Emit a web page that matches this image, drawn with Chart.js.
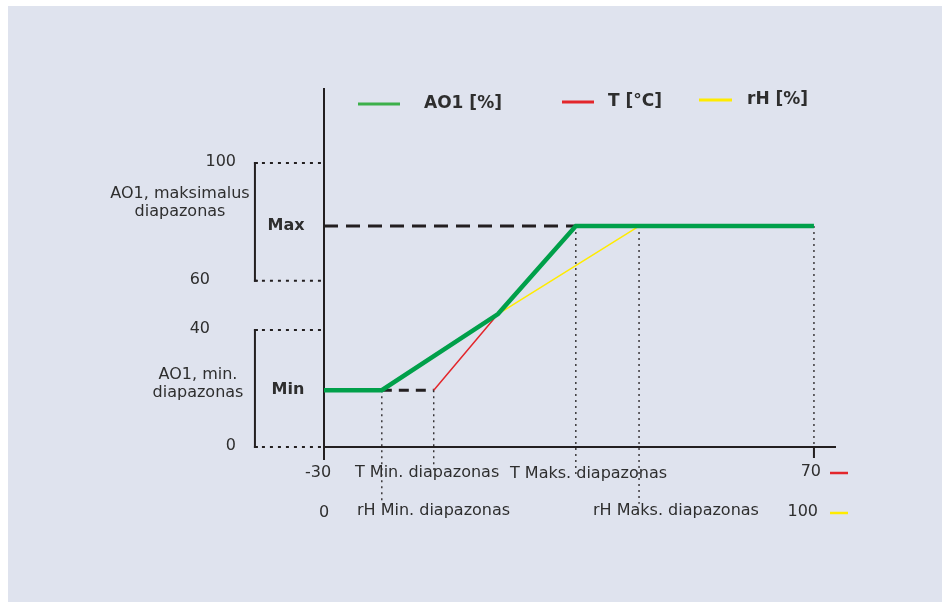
<!DOCTYPE html>
<html>
<head>
<meta charset="utf-8">
<script src="https://cdn.jsdelivr.net/npm/chart.js@4"></script>
<style>
  html, body { margin: 0; padding: 0; background: #ffffff; }
  #wrap { position: absolute; left: 8px; top: 6px; width: 934px; height: 596px; background: #dfe3ee; }
  #c { position: absolute; left: 0; top: 0; }
</style>
</head>
<body>
<div id="wrap"></div>
<canvas id="c" width="950" height="608"></canvas>
<script>
// x axis is the temperature scale (°C), y axis is AO1 output (%)
const aoX = [-30, -18.2, 5.5, 21.4, 70];
const aoY = [20, 20, 46.8, 77.8, 77.8];
const tX = [-7.6, 5.5, 21.4];
const tY = [20, 46.8, 77.8];
const rhX = [-18.2, 5.5, 34.3];
const rhY = [20, 46.8, 77.8];

const aoMin = 20;
const aoMax = 77.8;
const yTickValues = [0, 41.2, 58.5, 100];
const yTickLabels = ["0", "40", "60", "100"];
const tTicks = [-30, 70];
const tTickLabels = ["-30", "70"];
const rhTickLabels = ["0", "100"];

const FONT = '"DejaVu Sans", Verdana, sans-serif';
const TXT = '#2e2e2e';
const DARK = '#231f20';

function pts(xs, ys) {
  return xs.map((x, i) => ({ x: x, y: ys[i] }));
}

function line(data, color, width, dash, clip) {
  return {
    data: data,
    borderColor: color,
    borderWidth: width,
    borderDash: dash || [],
    pointRadius: 0,
    showLine: true,
    fill: false,
    tension: 0,
    clip: clip ? false : undefined
  };
}

const dotted = [2, 4];
const leftX = -44.3;   // start of the dotted range lines left of the axis

// first dataset is drawn on top
const datasets = [
  line(pts(aoX, aoY), '#00a04a', 4.5),
  line(pts(tX, tY), '#e3262b', 1.5),
  line(pts(rhX, rhY), '#ffeb00', 1.5),
  // dashed Max / Min levels
  line([{ x: -30, y: aoMax }, { x: tX[2], y: aoMax }], DARK, 3, [14, 8]),
  line([{ x: rhX[0], y: aoMin }, { x: tX[0], y: aoMin }], DARK, 3, [10, 7]),
  // vertical helper lines
  line([{ x: rhX[0], y: aoMin }, { x: rhX[0], y: -19 }], DARK, 1.3, dotted, true),
  line([{ x: tX[0], y: aoMin }, { x: tX[0], y: -8 }], DARK, 1.3, dotted, true),
  line([{ x: tX[2], y: aoMax }, { x: tX[2], y: -10 }], DARK, 1.3, dotted, true),
  line([{ x: rhX[2], y: aoMax }, { x: rhX[2], y: -20 }], DARK, 1.3, dotted, true),
  line([{ x: 70, y: aoMax }, { x: 70, y: 0 }], DARK, 1.3, dotted, true),
  // left range guides
  ...yTickValues.map(v => line([{ x: leftX, y: v }, { x: -30, y: v }], DARK, 2, [3, 5], true))
];

const decor = {
  id: 'decor',
  beforeDatasetsDraw(chart) {
    const { ctx, scales: { x, y } } = chart;
    const x0 = x.getPixelForValue(-30);
    const y0 = y.getPixelForValue(0);
    ctx.save();
    ctx.strokeStyle = DARK;
    ctx.lineWidth = 2;
    ctx.beginPath();
    // y axis
    ctx.moveTo(x0, chart.chartArea.top);
    ctx.lineTo(x0, y0 + 13);
    // x axis
    ctx.moveTo(x0, y0);
    ctx.lineTo(chart.chartArea.right, y0);
    // tick at 70
    const x70 = x.getPixelForValue(tTicks[1]);
    ctx.moveTo(x70, y0);
    ctx.lineTo(x70, y0 + 11);
    ctx.stroke();

    // range brackets
    const bx = x.getPixelForValue(leftX) + 1;
    [[100, 58.5], [41.2, 0]].forEach(([a, b]) => {
      ctx.beginPath();
      ctx.moveTo(bx + 3, y.getPixelForValue(a));
      ctx.lineTo(bx, y.getPixelForValue(a));
      ctx.lineTo(bx, y.getPixelForValue(b));
      ctx.lineTo(bx + 3, y.getPixelForValue(b));
      ctx.stroke();
    });
    ctx.restore();
  },
  afterDraw(chart) {
    const { ctx, scales: { y } } = chart;
    ctx.save();
    ctx.fillStyle = TXT;
    ctx.textBaseline = 'middle';
    ctx.font = '16px ' + FONT;

    // y tick labels
    const yRight = [236, 210, 210, 236];
    ctx.textAlign = 'right';
    yTickValues.forEach((v, i) => {
      ctx.fillText(yTickLabels[i], yRight[i], y.getPixelForValue(v) - 1);
    });

    // range descriptions
    ctx.textAlign = 'center';
    ctx.fillText('AO1, maksimalus', 180, 194);
    ctx.fillText('diapazonas', 180, 212);
    ctx.fillText('AO1, min.', 198, 375);
    ctx.fillText('diapazonas', 198, 393);

    ctx.font = 'bold 16px ' + FONT;
    ctx.fillText('Max', 286, y.getPixelForValue(aoMax));
    ctx.fillText('Min', 288, y.getPixelForValue(aoMin));

    // bottom scales
    ctx.font = '16px ' + FONT;
    ctx.textAlign = 'center';
    ctx.fillText(tTickLabels[0], 318, 473);
    ctx.fillText(rhTickLabels[0], 324, 513);
    ctx.textAlign = 'right';
    ctx.fillText(tTickLabels[1], 821, 472);
    ctx.fillText(rhTickLabels[1], 818, 512);
    ctx.textAlign = 'left';
    ctx.fillText('T Min. diapazonas', 355, 473);
    ctx.fillText('T Maks. diapazonas', 510, 474);
    ctx.fillText('rH Min. diapazonas', 357, 511);
    ctx.fillText('rH Maks. diapazonas', 593, 511);

    ctx.lineWidth = 2.5;
    ctx.strokeStyle = '#e3262b';
    ctx.beginPath(); ctx.moveTo(830, 473); ctx.lineTo(848, 473); ctx.stroke();
    ctx.strokeStyle = '#ffeb00';
    ctx.beginPath(); ctx.moveTo(830, 513); ctx.lineTo(848, 513); ctx.stroke();

    // legend
    const legend = [
      { label: 'AO1 [%]', color: '#3cb04a', x1: 358, x2: 400, tx: 424, ty: 104 },
      { label: 'T [°C]', color: '#e3262b', x1: 562, x2: 594, tx: 608, ty: 102 },
      { label: 'rH [%]', color: '#ffeb00', x1: 699, x2: 732, tx: 747, ty: 100 }
    ];
    ctx.font = 'bold 17px ' + FONT;
    ctx.textAlign = 'left';
    ctx.lineWidth = 3;
    legend.forEach(l => {
      ctx.strokeStyle = l.color;
      ctx.beginPath(); ctx.moveTo(l.x1, l.ty); ctx.lineTo(l.x2, l.ty); ctx.stroke();
      ctx.fillStyle = TXT;
      ctx.fillText(l.label, l.tx, l.ty);
    });
    ctx.restore();
  }
};

new Chart('c', {
  type: 'scatter',
  data: { datasets: datasets },
  options: {
    responsive: false,
    animation: false,
    events: [],
    layout: { padding: { left: 324, right: 114, top: 88, bottom: 161 } },
    plugins: { legend: { display: false }, tooltip: { enabled: false } },
    scales: {
      x: { type: 'linear', display: false, min: -30, max: 74.5 },
      y: { type: 'linear', display: false, min: 0, max: 126.4 }
    }
  },
  plugins: [decor]
});
</script>
</body>
</html>
